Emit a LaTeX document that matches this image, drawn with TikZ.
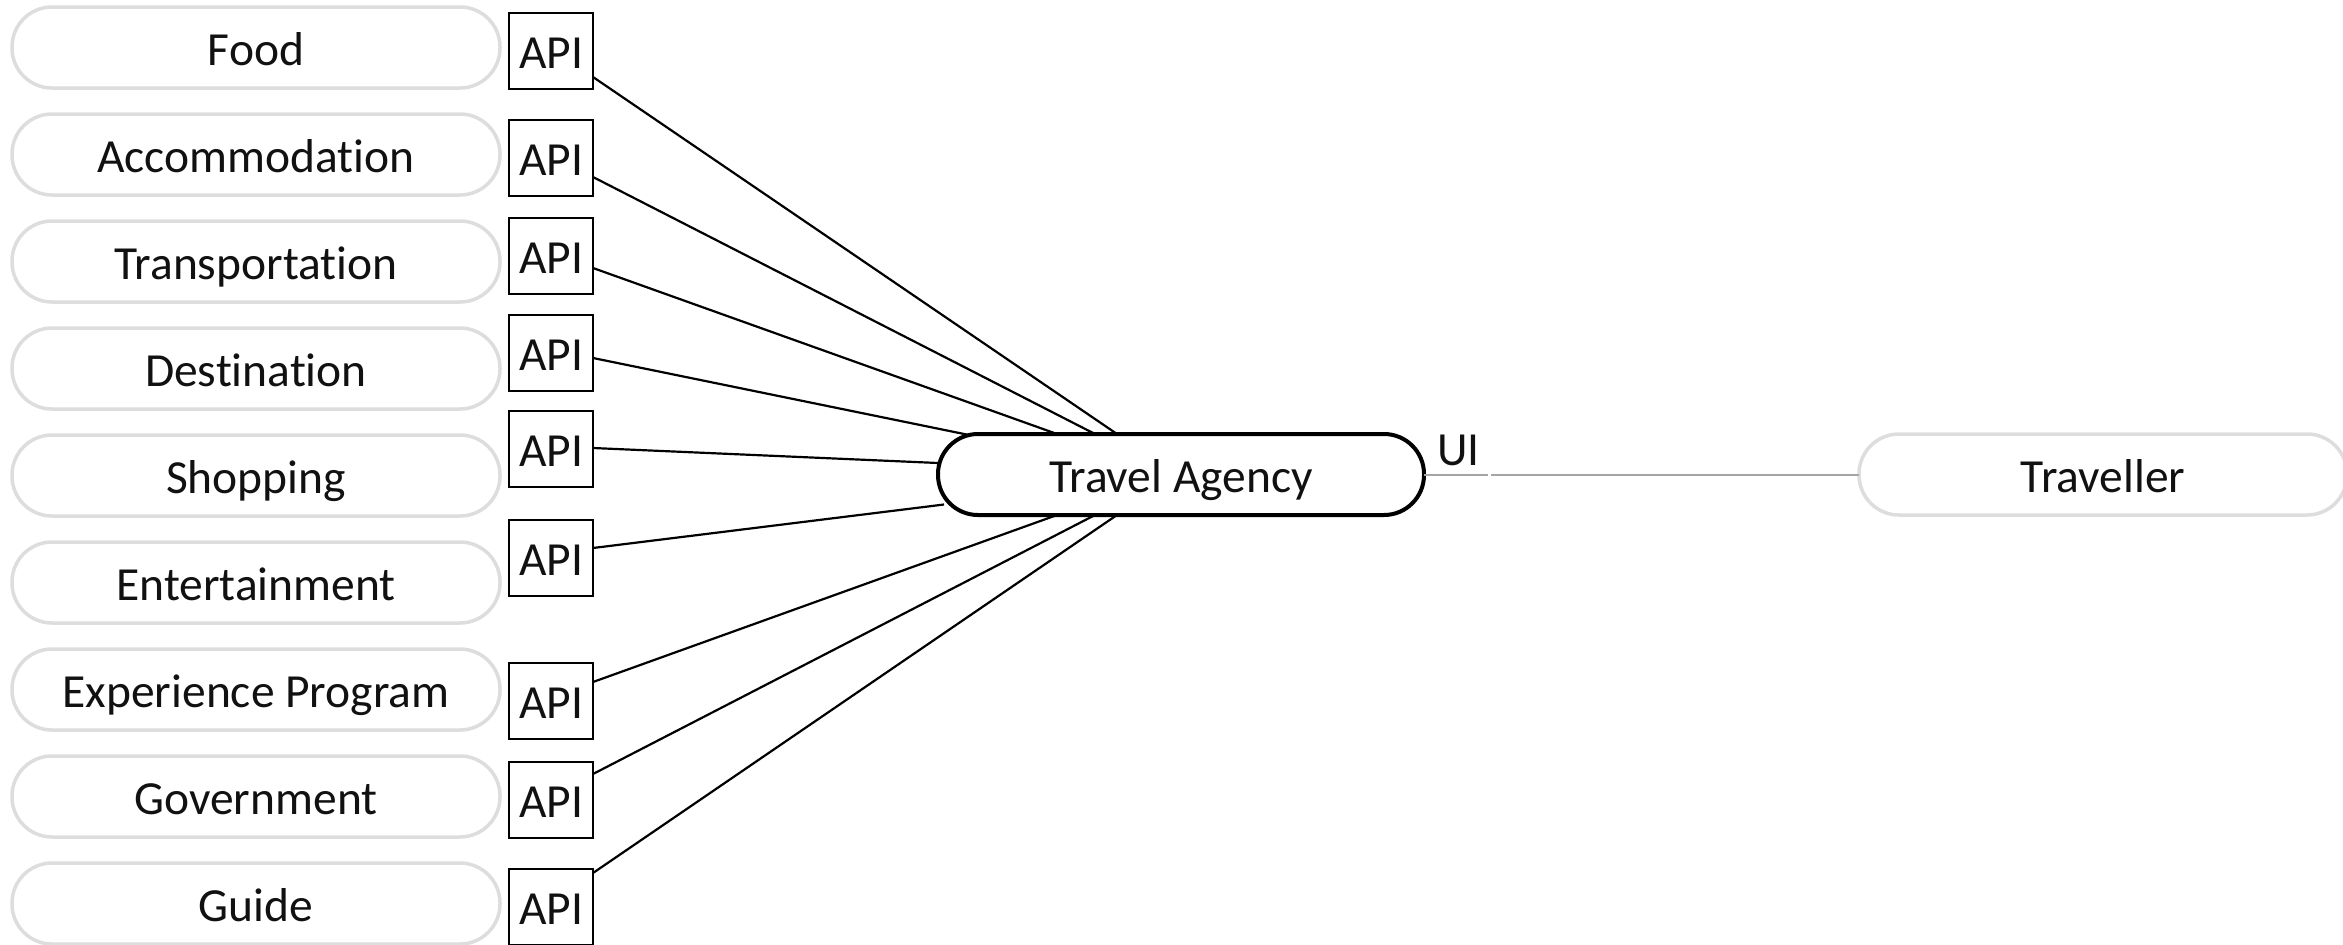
\documentclass[tikz,border=0pt]{standalone}
\usepackage{fontspec}
\setmainfont{Carlito}[Ligatures=NoCommon]
\usetikzlibrary{calc}
\definecolor{boxgray}{RGB}{221,221,221}
\definecolor{linegray}{RGB}{165,165,165}
\definecolor{inkblack}{RGB}{17,17,17}
\begin{document}
\begin{tikzpicture}[x=1pt,y=-1pt,
  every node/.style={font=\fontsize{47.5}{57}\selectfont, text=inkblack, text height=35pt, text depth=0pt, inner sep=0pt, outer sep=0pt},
  service/.style={draw=boxgray, line width=3.5pt, rounded corners=40pt, minimum width=488pt, minimum height=81pt, fill=white},
  apibox/.style={draw=black, line width=2pt, minimum width=84pt, minimum height=76pt},
  hub/.style={draw=black, line width=4pt, rounded corners=40pt, minimum width=486pt, minimum height=81pt, fill=white},
  link/.style={draw=black, line width=2.2pt},
  uilink/.style={draw=linegray, line width=2pt}]
\useasboundingbox (0,0) rectangle (2343,945);
% service boxes
\node[service] (food)   at (256,47.5)  {Food};
\node[service] (accom)  at (256,154.5) {Accommodation};
\node[service] (transp) at (256,261.5) {Transportation};
\node[service] (dest)   at (256,368.5) {Destination};
\node[service] (shop)   at (256,475.5) {Shopping};
\node[service] (ent)    at (256,582.5) {Entertainment};
\node[service] (exper)  at (256,689.5) {Experience Program};
\node[service] (gov)    at (256,796.5) {Government};
\node[service] (guide)  at (256,903.5) {Guide};
% API boxes
\node[apibox] (api1) at (551,51)  {API};
\node[apibox] (api2) at (551,158) {API};
\node[apibox] (api3) at (551,256) {API};
\node[apibox] (api4) at (551,353) {API};
\node[apibox] (api5) at (551,449) {API};
\node[apibox] (api6) at (551,558) {API};
\node[apibox] (api7) at (551,701) {API};
\node[apibox] (api8) at (551,800) {API};
\node[apibox] (api9) at (551,907) {API};
% hub and traveller
\node[hub] (ta) at (1181,474.5) {Travel Agency};
\node[service] (trav) at (2103,474.5) {Traveller};
\node (ui) at (1458.5,447.5) {UI};
% connectors
\draw[link] ($(api1.south east)+(0,-12)$) -- ($(ta.north)+(-64,0)$);
\draw[link] ($(api2.south east)+(0,-19)$) -- ($(ta.north)+(-86,0)$);
\draw[link] ($(api3.south east)+(0,-26)$) -- ($(ta.north)+(-124,0)$);
\draw[link] ($(api4.south east)+(0,-33)$) -- ($(ta.north)+(-212,1)$);
\draw[link] ($(api5.south east)+(0,-39)$) -- ($(ta.west)+(0,-11.5)$);
\draw[link] ($(api6.south east)+(0,-48)$) -- ($(ta.west)+(6,30)$);
\draw[link] ($(api7.south east)+(0,-57)$) -- ($(ta.south)+(-124,0)$);
\draw[link] ($(api8.south east)+(0,-64)$) -- ($(ta.south)+(-86,0)$);
\draw[link] ($(api9.south east)+(0,-72)$) -- ($(ta.south)+(-64,0)$);
\coordinate (gapL) at (1488,474.5);
\coordinate (gapR) at (1491,474.5);
\draw[uilink] (ta.east) -- (gapL);
\draw[uilink] (gapR) -- (trav.west);
\end{tikzpicture}
\end{document}
